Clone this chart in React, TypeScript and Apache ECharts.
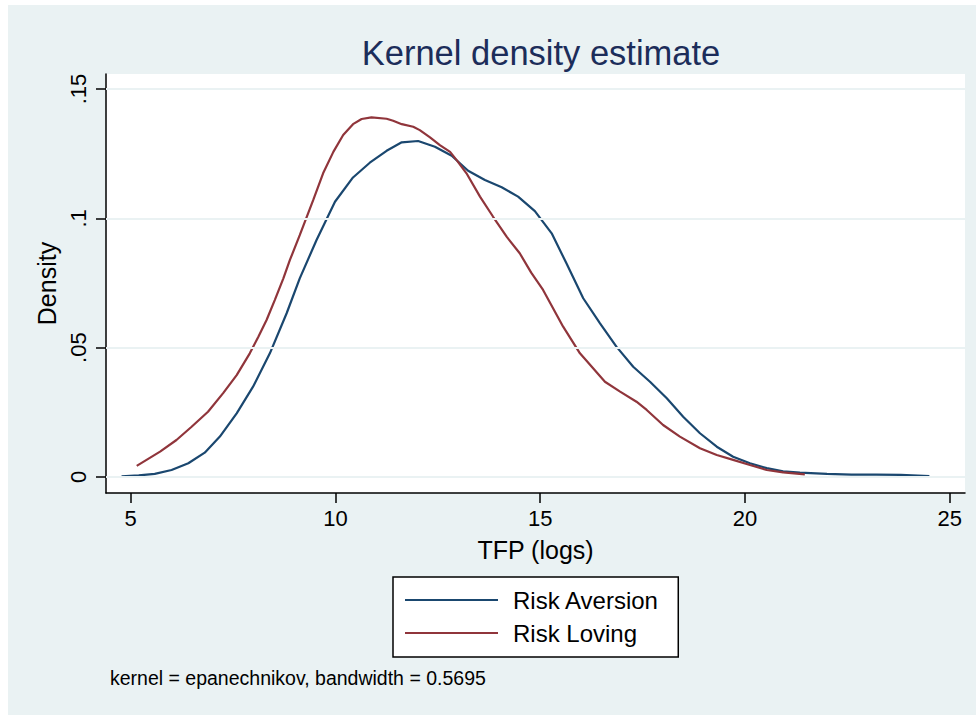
import React, { useEffect, useRef } from "react";
import * as echarts from "echarts";

const SERIES_NAMES = ["Risk Aversion", "Risk Loving"];
const X_TICKS = [5, 10, 15, 20, 25];
const Y_TICKS = [0, 0.05, 0.1, 0.15];

// Risk Aversion kernel density (x = TFP logs, y = density)
const AVERSION: [number, number][] = [
  [4.78, 0.0002], [5.2, 0.0006], [5.59, 0.0012], [6.0, 0.0027], [6.41, 0.0053],
  [6.81, 0.0094], [7.18, 0.0156], [7.59, 0.0246], [7.99, 0.0349], [8.4, 0.0478],
  [8.81, 0.0633], [9.13, 0.0768], [9.54, 0.0916], [9.99, 0.1064], [10.43, 0.1158],
  [10.84, 0.1215], [11.25, 0.1261], [11.62, 0.1294], [12.02, 0.1299], [12.43, 0.1277],
  [12.84, 0.1242], [13.24, 0.1184], [13.65, 0.1148], [14.06, 0.112], [14.46, 0.1084],
  [14.87, 0.1028], [15.28, 0.0942], [15.64, 0.0826], [16.05, 0.0691], [16.46, 0.0594],
  [16.86, 0.0504], [17.27, 0.0426], [17.68, 0.0368], [18.09, 0.0304], [18.49, 0.0233],
  [18.9, 0.0169], [19.31, 0.0117], [19.71, 0.0078], [20.12, 0.0053], [20.53, 0.0034],
  [20.93, 0.0022], [21.34, 0.0017], [22.0, 0.0012], [22.6, 0.0009], [23.2, 0.0009],
  [23.8, 0.0008], [24.5, 0.0003],
];

// Risk Loving kernel density
const LOVING: [number, number][] = [
  [5.15, 0.0043], [5.72, 0.0098], [6.12, 0.0143], [6.49, 0.0194], [6.89, 0.0252],
  [7.26, 0.0324], [7.59, 0.0394], [7.91, 0.0478], [8.12, 0.0542], [8.32, 0.0607],
  [8.52, 0.0684], [8.73, 0.0768], [8.89, 0.0839], [9.13, 0.0935], [9.46, 0.1071],
  [9.7, 0.1174], [9.95, 0.1257], [10.19, 0.1322], [10.43, 0.1364], [10.64, 0.1384],
  [10.88, 0.139], [11.25, 0.1385], [11.41, 0.1377], [11.62, 0.1364], [11.9, 0.1354],
  [12.06, 0.1341], [12.31, 0.1313], [12.55, 0.1283], [12.8, 0.1257], [12.96, 0.1225],
  [13.2, 0.1174], [13.53, 0.1084], [13.85, 0.1006], [14.18, 0.0929], [14.5, 0.0865],
  [14.78, 0.079], [15.07, 0.0723], [15.56, 0.0581], [15.97, 0.0478], [16.58, 0.0368],
  [16.95, 0.033], [17.35, 0.0291], [17.6, 0.0259], [18.0, 0.0201], [18.41, 0.0156],
  [18.9, 0.0111], [19.31, 0.0085], [19.71, 0.0066], [20.12, 0.0046], [20.53, 0.0027],
  [20.93, 0.0018], [21.46, 0.001],
];

const TITLE = "Kernel density estimate";
const X_NAME = "TFP (logs)";
const Y_NAME = "Density";
const NOTE = "kernel = epanechnikov, bandwidth = 0.5695";

const FONT = "'Liberation Sans', Arial, sans-serif";
const BG = "#EAF2F3";
const BLUE = "#1a476f";
const RED = "#90353b";

export default function App() {
  const ref = useRef<HTMLDivElement>(null);
  useEffect(() => {
    if (!ref.current) return;
    const chart = echarts.init(ref.current, undefined, { renderer: "svg" });
    const fmtY = (v: number) => (v === 0 ? "0" : String(+v.toFixed(3)).replace(/^0/, ""));
    chart.setOption({
      animation: false,
      backgroundColor: "#ffffff",
      textStyle: { fontFamily: FONT },
      title: {
        text: TITLE,
        left: 536,
        top: 30,
        textAlign: "center",
        textStyle: { fontSize: 34.5, fontWeight: "normal", color: "#1c2d5a", fontFamily: FONT },
      },
      graphic: [
        {
          type: "rect",
          z: -10,
          silent: true,
          shape: { x: 8, y: 5, width: 976 - 8, height: 715 - 5 },
          style: { fill: BG },
        },
        {
          type: "text",
          x: 110,
          y: 678,
          silent: true,
          style: {
            text: NOTE,
            fontSize: 19.5,
            fontFamily: FONT,
            fill: "#000",
            textVerticalAlign: "middle",
          },
        },
      ],
      legend: {
        data: SERIES_NAMES,
        orient: "vertical",
        left: 393,
        top: 577,
        padding: [11, 19, 12, 11],
        itemWidth: 93,
        itemHeight: 24,
        itemGap: 9,
        backgroundColor: "#ffffff",
        borderColor: "#000",
        borderWidth: 1.5,
        borderRadius: 0,
        itemStyle: { opacity: 0 },
        textStyle: { fontSize: 24, color: "#000", fontFamily: FONT, padding: [0, 0, 0, 10], lineHeight: 24 },
      },
      grid: {
        left: 106,
        right: 11,
        top: 74,
        bottom: 222,
        show: true,
        backgroundColor: "#ffffff",
        borderWidth: 0,
        containLabel: false,
      },
      xAxis: {
        type: "value",
        min: 4.4,
        max: 25.37,
        name: X_NAME,
        nameLocation: "middle",
        nameGap: 44,
        nameTextStyle: { fontSize: 25, color: "#000", fontFamily: FONT },
        axisLine: { show: true, onZero: false, lineStyle: { color: "#000", width: 1.5 } },
        axisTick: { show: true, customValues: X_TICKS, length: 10, lineStyle: { color: "#000", width: 1.5 } },
        axisLabel: { customValues: X_TICKS, fontSize: 22, color: "#000", margin: 14, fontFamily: FONT },
        splitLine: { show: false },
      },
      yAxis: {
        type: "value",
        min: -0.0062,
        max: 0.1558,
        name: Y_NAME,
        nameLocation: "middle",
        nameRotate: 90,
        nameGap: 44,
        nameTextStyle: { fontSize: 25, color: "#000", fontFamily: FONT },
        axisLine: { show: true, onZero: false, lineStyle: { color: "#000", width: 1.5 } },
        axisTick: { show: true, customValues: Y_TICKS, length: 10, lineStyle: { color: "#000", width: 1.5 } },
        axisLabel: {
          customValues: Y_TICKS,
          rotate: 90,
          fontSize: 22,
          color: "#000",
          margin: 17,
          fontFamily: FONT,
          formatter: fmtY,
        },
        splitLine: { show: false },
      },
      series: [
        {
          name: "grid",
          type: "line",
          data: [],
          z: 1,
          silent: true,
          markLine: {
            silent: true,
            symbol: ["none", "none"],
            label: { show: false },
            lineStyle: { color: BG, width: 2, type: "solid" },
            data: Y_TICKS.map((v) => ({ yAxis: v })),
          },
        },
        {
          name: SERIES_NAMES[0],
          type: "line",
          data: AVERSION,
          symbol: "none",
          z: 3,
          color: BLUE,
          lineStyle: { color: BLUE, width: 2.2 },
        },
        {
          name: SERIES_NAMES[1],
          type: "line",
          data: LOVING,
          symbol: "none",
          z: 3,
          color: RED,
          lineStyle: { color: RED, width: 2.2 },
        },
      ],
    });
    return () => chart.dispose();
  }, []);
  return (
    <div
      ref={ref}
      style={{ position: "absolute", left: 0, top: 0, width: 976, height: 715 }}
    />
  );
}
